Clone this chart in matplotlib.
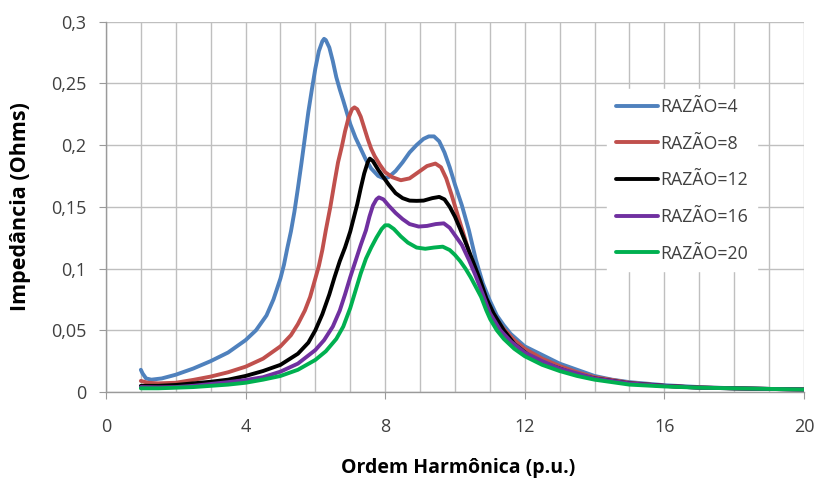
import matplotlib
matplotlib.use("Agg")
import matplotlib.pyplot as plt
from matplotlib.ticker import MultipleLocator, FuncFormatter

# valores (ordem harmonica x impedancia)
x_r4 = [1.0, 1.05, 1.15, 1.3, 1.6, 2, 2.5, 3, 3.5, 4, 4.3, 4.6, 4.8, 5.0, 5.1, 5.2, 5.3,
        5.4, 5.5, 5.6, 5.7, 5.8, 5.9, 6.0, 6.1, 6.2, 6.25, 6.3, 6.4, 6.5, 6.6, 6.7, 6.8,
        7.0, 7.15, 7.3, 7.45, 7.6, 7.8, 7.96, 8.1, 8.3, 8.5, 8.7, 8.9, 9.1, 9.25, 9.4,
        9.55, 9.7, 9.85, 10.0, 10.2, 10.4, 10.6, 10.8, 11.0, 11.2, 11.4, 11.6, 11.8, 12,
        12.5, 13, 13.5, 14, 14.5, 15, 16, 17, 18, 19, 20]
y_r4 = [0.018, 0.015, 0.011, 0.010, 0.011, 0.014, 0.019, 0.025, 0.032, 0.042, 0.050,
        0.062, 0.075, 0.092, 0.103, 0.117, 0.130, 0.146, 0.165, 0.185, 0.206, 0.227,
        0.245, 0.262, 0.276, 0.284, 0.286, 0.285, 0.279, 0.268, 0.255, 0.245, 0.236,
        0.217, 0.206, 0.197, 0.188, 0.181, 0.175, 0.173, 0.174, 0.179, 0.186, 0.194,
        0.200, 0.205, 0.207, 0.207, 0.203, 0.194, 0.182, 0.168, 0.151, 0.131, 0.107,
        0.088, 0.074, 0.062, 0.054, 0.047, 0.042, 0.037, 0.030, 0.023, 0.018, 0.013,
        0.010, 0.008, 0.0055, 0.004, 0.003, 0.0025, 0.002]

x_r8 = [1.0, 1.2, 1.5, 2, 2.5, 3, 3.5, 4, 4.5, 5, 5.3, 5.5, 5.7, 5.85, 6.0, 6.1, 6.2,
        6.3, 6.43, 6.55, 6.65, 6.76, 6.85, 6.95, 7.05, 7.12, 7.2, 7.3, 7.4, 7.5, 7.6,
        7.7, 7.85, 8.0, 8.2, 8.45, 8.7, 8.95, 9.2, 9.44, 9.6, 9.75, 9.9, 10.06, 10.3,
        10.53, 10.8, 11.0, 11.2, 11.4, 11.7, 12, 12.5, 13, 13.5, 14, 15, 16, 17, 18, 19, 20]
y_r8 = [0.009, 0.0075, 0.007, 0.0075, 0.0098, 0.0125, 0.016, 0.0205, 0.027, 0.037,
        0.046, 0.055, 0.066, 0.077, 0.092, 0.102, 0.115, 0.131, 0.150, 0.170, 0.186,
        0.199, 0.211, 0.222, 0.229, 0.2305, 0.229, 0.223, 0.214, 0.205, 0.197, 0.191,
        0.184, 0.178, 0.174, 0.1715, 0.173, 0.178, 0.183, 0.185, 0.182, 0.173, 0.160,
        0.145, 0.123, 0.101, 0.081, 0.068, 0.058, 0.051, 0.042, 0.035, 0.027, 0.021,
        0.016, 0.012, 0.0075, 0.005, 0.0037, 0.003, 0.0025, 0.002]

x_r12 = [1.0, 1.5, 2, 2.5, 3, 3.5, 4, 4.5, 5, 5.5, 5.8, 6.0, 6.2, 6.4, 6.55, 6.7, 6.85,
         7.0, 7.1, 7.2, 7.3, 7.4, 7.5, 7.56, 7.65, 7.8, 7.95, 8.1, 8.3, 8.5, 8.7, 8.9,
         9.1, 9.35, 9.55, 9.7, 9.85, 10.0, 10.15, 10.35, 10.54, 10.73, 10.9, 11.1, 11.4,
         11.7, 12.1, 12.5, 13, 13.5, 14, 15, 16, 17, 18, 19, 20]
y_r12 = [0.005, 0.005, 0.0057, 0.007, 0.0083, 0.010, 0.013, 0.017, 0.022, 0.031, 0.040,
         0.050, 0.063, 0.079, 0.093, 0.106, 0.117, 0.130, 0.141, 0.152, 0.165, 0.177,
         0.186, 0.189, 0.187, 0.180, 0.174, 0.168, 0.161, 0.157, 0.155, 0.1548, 0.155,
         0.157, 0.158, 0.156, 0.150, 0.142, 0.132, 0.118, 0.104, 0.090, 0.076, 0.064,
         0.050, 0.039, 0.030, 0.024, 0.019, 0.014, 0.011, 0.007, 0.005, 0.0035, 0.003,
         0.0025, 0.002]

x_r16 = [1.0, 1.5, 2, 2.5, 3, 3.5, 4, 4.5, 5, 5.5, 6, 6.25, 6.5, 6.7, 6.85, 7.0, 7.15,
         7.3, 7.45, 7.55, 7.65, 7.75, 7.82, 7.95, 8.1, 8.3, 8.5, 8.7, 8.96, 9.2, 9.45,
         9.68, 9.85, 10.0, 10.2, 10.4, 10.58, 10.8, 11.0, 11.3, 11.6, 12, 12.5, 13, 13.5,
         14, 15, 16, 17, 18, 19, 20]
y_r16 = [0.004, 0.0038, 0.004, 0.005, 0.0065, 0.008, 0.0097, 0.012, 0.0165, 0.023, 0.034,
         0.042, 0.053, 0.066, 0.079, 0.093, 0.106, 0.119, 0.131, 0.142, 0.151, 0.156,
         0.1576, 0.156, 0.151, 0.145, 0.140, 0.136, 0.134, 0.1345, 0.136, 0.1366, 0.133,
         0.127, 0.119, 0.107, 0.095, 0.079, 0.064, 0.050, 0.041, 0.032, 0.025, 0.019,
         0.015, 0.011, 0.007, 0.005, 0.0035, 0.003, 0.0025, 0.002]

x_r20 = [1.0, 1.5, 2, 2.5, 3, 3.5, 4, 4.5, 5, 5.5, 6, 6.3, 6.6, 6.8, 7.0, 7.15, 7.3, 7.45,
         7.6, 7.75, 7.9, 8.0, 8.1, 8.25, 8.45, 8.65, 8.9, 9.15, 9.4, 9.65, 9.85, 10.0,
         10.15, 10.3, 10.45, 10.6, 10.75, 10.9, 11.01, 11.2, 11.4, 11.7, 12, 12.5, 13,
         13.5, 14, 15, 16, 17, 18, 19, 20]
y_r20 = [0.003, 0.003, 0.0035, 0.004, 0.005, 0.006, 0.0075, 0.010, 0.013, 0.018, 0.026,
         0.033, 0.043, 0.053, 0.068, 0.082, 0.096, 0.108, 0.117, 0.125, 0.132, 0.135,
         0.135, 0.132, 0.126, 0.121, 0.117, 0.116, 0.117, 0.1177, 0.115, 0.111, 0.106,
         0.100, 0.093, 0.085, 0.077, 0.066, 0.059, 0.050, 0.043, 0.035, 0.029, 0.022,
         0.017, 0.013, 0.010, 0.006, 0.0045, 0.0035, 0.003, 0.0025, 0.002]

labels = ['RAZÃO=4', 'RAZÃO=8', 'RAZÃO=12', 'RAZÃO=16', 'RAZÃO=20']
colors = ['#4F81BD', '#C0504D', '#000000', '#7030A0', '#00B050']

plt.rcParams['font.family'] = ['Open Sans', 'DejaVu Sans']

fig = plt.figure(figsize=(8.17, 4.79), dpi=100)
ax = fig.add_axes([0.1297, 0.1816, 0.984 - 0.1297, 0.955 - 0.1816])

series = [(x_r4, y_r4), (x_r8, y_r8), (x_r12, y_r12), (x_r16, y_r16), (x_r20, y_r20)]
for (xs, ys), lab, c in zip(series, labels, colors):
    ax.plot(xs, ys, color=c, lw=2.8, label=lab, solid_joinstyle='round', solid_capstyle='round')

ax.set_xlim(0, 20)
ax.set_ylim(0, 0.3)
ax.xaxis.set_major_locator(MultipleLocator(4))
ax.xaxis.set_minor_locator(MultipleLocator(1))
ax.yaxis.set_major_locator(MultipleLocator(0.05))
fmt = FuncFormatter(lambda v, p: ('%g' % round(v, 3)).replace('.', ','))
ax.yaxis.set_major_formatter(fmt)

ax.grid(True, which='both', axis='x', color='#BFBFBF', lw=1)
ax.grid(True, which='major', axis='y', color='#BFBFBF', lw=1)
ax.set_axisbelow(True)
for s in ['top', 'right']:
    ax.spines[s].set_visible(False)
for s in ['left', 'bottom']:
    ax.spines[s].set_color('#9A9A9A')
    ax.spines[s].set_linewidth(1)
ax.tick_params(which='major', length=5, color='#9A9A9A', labelsize=13, labelcolor='#404040')
ax.tick_params(axis='x', pad=14)
ax.tick_params(axis='y', pad=9)
ax.tick_params(which='minor', length=0)

ax.set_xlabel('Ordem Harmônica (p.u.)', fontsize=14, fontweight='bold', va='top')
ax.set_ylabel('Impedância (Ohms)', fontsize=15.5, fontweight='bold')
ax.xaxis.set_label_coords(0.505, -0.177)
ax.yaxis.set_label_coords(-0.107, 0.5)

leg = ax.legend(loc='upper left', bbox_to_anchor=(0.718, 0.818), frameon=True,
                fontsize=12.8, handlelength=2.35, handletextpad=0.15, labelspacing=1.05,
                borderpad=0.5, borderaxespad=0, fancybox=False)
leg.get_frame().set_facecolor('white')
leg.get_frame().set_edgecolor('white')
leg.get_frame().set_alpha(1)
for t in leg.get_texts():
    t.set_color('#404040')

fig.savefig('out.png', dpi=100)
